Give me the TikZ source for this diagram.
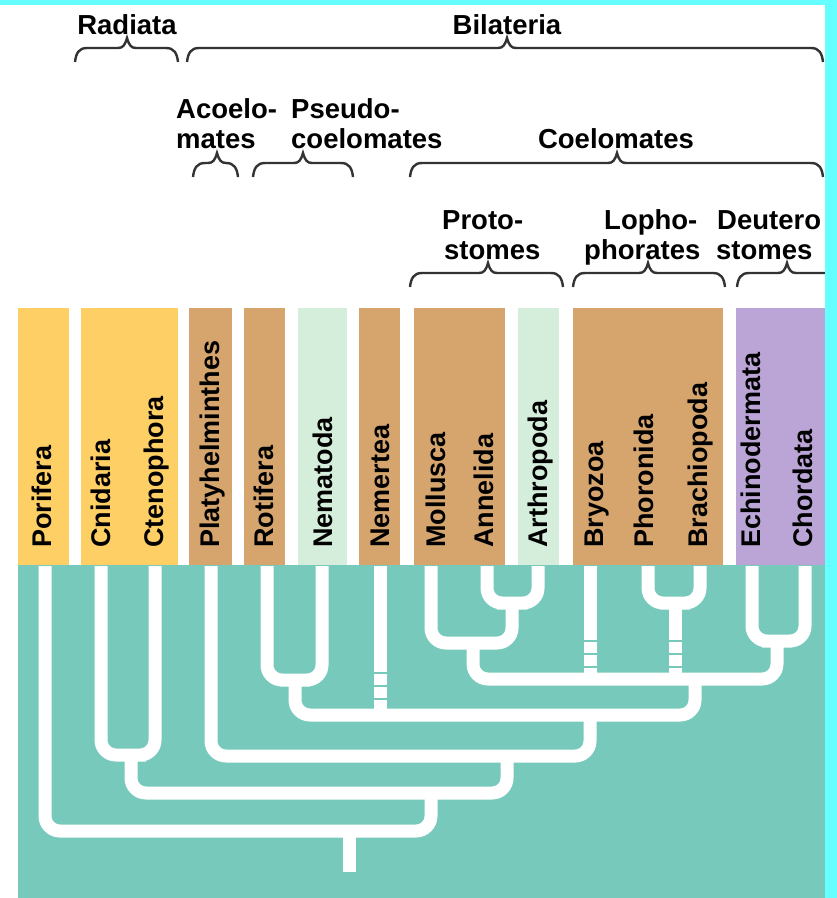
\documentclass[tikz,border=0pt]{standalone}
\usepackage{fontspec}
\setmainfont{Liberation Sans}
\definecolor{radyellow}{HTML}{FDCF64}
\definecolor{bodytan}{HTML}{D5A56D}
\definecolor{palegreen}{HTML}{D5EEDC}
\definecolor{deutpurple}{HTML}{BBA5D6}
\definecolor{treeteal}{HTML}{77C9BB}
\definecolor{framecyan}{HTML}{66FFFF}
\definecolor{braceg}{HTML}{333333}
% curly group brace: #1 left x, #2 right x, #3 tip x, #4 y of the bar
\newcommand\grpbrace[4]{%
  \draw[gbrace] (#1,#4+14) .. controls (#1+1,#4+5) and (#1+4,#4) .. (#1+12,#4)
    -- (#3-9,#4) .. controls (#3-4,#4) and (#3-2,#4-3) .. (#3,#4-10)
    .. controls (#3+2,#4-3) and (#3+4,#4) .. (#3+9,#4)
    -- (#2-12,#4) .. controls (#2-4,#4) and (#2-1,#4+5) .. (#2,#4+14);}
\begin{document}
\begin{tikzpicture}[x=1pt,y=-1pt,
  branch/.style={draw=white, line width=13pt, rounded corners=15pt},
  notch/.style={draw=treeteal, line width=2.6pt},
  taxon/.style={rotate=90, anchor=base west, inner sep=0pt,
    font=\fontsize{27}{30}\selectfont\bfseries},
  grouplab/.style={inner sep=0pt, font=\fontsize{27.5}{30}\selectfont\bfseries},
  gbrace/.style={draw=braceg, line width=2.4pt}]
\useasboundingbox (0,0) rectangle (837,898);
\fill[white] (0,0) rectangle (837,898);

% coloured phylum panels
\fill[radyellow]  (18,308)  rectangle (69,566);
\fill[radyellow]  (81,308)  rectangle (178,566);
\fill[bodytan]    (189,308) rectangle (232,566);
\fill[bodytan]    (244,308) rectangle (285,566);
\fill[palegreen]  (298,308) rectangle (347,566);
\fill[bodytan]    (359,308) rectangle (400,566);
\fill[bodytan]    (414,308) rectangle (505,566);
\fill[palegreen]  (518,308) rectangle (559,566);
\fill[bodytan]    (573,308) rectangle (723,566);
\fill[deutpurple] (736,308) rectangle (825,566);

% tree background
\fill[treeteal] (18,565) rectangle (825,898);

% phylum names
\node[taxon] (porifera)  at (52,548)  {Porifera};
\node[taxon] (cnidaria)  at (110,548) {Cnidaria};
\node[taxon] (ctenoph)   at (163,548) {Ctenophora};
\node[taxon] (platy)     at (219,548) {Platyhelminthes};
\node[taxon] (rotifera)  at (273,548) {Rotifera};
\node[taxon] (nematoda)  at (332,548) {Nematoda};
\node[taxon] (nemertea)  at (389,548) {Nemertea};
\node[taxon] (mollusca)  at (445,548) {Mollusca};
\node[taxon] (annelida)  at (493,548) {Annelida};
\node[taxon] (arthro)    at (547,548) {Arthropoda};
\node[taxon] (bryozoa)   at (603,548) {Bryozoa};
\node[taxon] (phoronida) at (653,548) {Phoronida};
\node[taxon] (brachio)   at (707,548) {Brachiopoda};
\node[taxon] (echino)    at (760,548) {Echinodermata};
\node[taxon] (chordata)  at (812,548) {Chordata};

% tips of the branches
\coordinate (Po) at (45,566);
\coordinate (Cn) at (101,566);
\coordinate (Ct) at (155,566);
\coordinate (Pl) at (211,566);
\coordinate (Ro) at (267,566);
\coordinate (Nt) at (322,566);
\coordinate (Nm) at (380,566);
\coordinate (Mo) at (431,566);
\coordinate (An) at (487,566);
\coordinate (Ar) at (538,566);
\coordinate (By) at (590,566);
\coordinate (Ph) at (648,566);
\coordinate (Br) at (700,566);
\coordinate (Ec) at (752,566);
\coordinate (Ch) at (805,566);

% branching points
\coordinate (root) at (349,872);
\coordinate (cPo)  at (431,831);
\coordinate (j1)   at (431,793);
\coordinate (uCC)  at (131,755);
\coordinate (cCC)  at (507,793);
\coordinate (j2)   at (507,756);
\coordinate (cPl)  at (590,756);
\coordinate (j3)   at (590,715);
\coordinate (uRN)  at (295,680);
\coordinate (cRN)  at (695,715);
\coordinate (j4)   at (695,679);
\coordinate (uAA)  at (512,603);
\coordinate (uPr)  at (473,643);
\coordinate (uPB)  at (675,603);
\coordinate (uDe)  at (777,641);

% branches
\draw[branch] (root) -- (root |- cPo);
\draw[branch] (Po) |- (cPo) -- (j1);
\draw[branch] (Cn) |- (uCC) -| (Ct);
\draw[branch] (uCC) |- (cCC) -- (j2);
\draw[branch] (Pl) |- (cPl) -- (j3);
\draw[branch] (Ro) |- (uRN) -| (Nt);
\draw[branch] (uRN) |- (cRN) -- (j4);
\draw[branch] (Nm) -- (Nm |- cRN);
\draw[branch] (An) |- (uAA) -| (Ar);
\draw[branch] (Mo) |- (uPr) -| (uAA);
\draw[branch] (uPr) |- (j4) -| (uDe);
\draw[branch] (Ec) |- (uDe) -| (Ch);
\draw[branch] (By) -- (By |- j4);
\draw[branch] (Ph) |- (uPB) -| (Br);
\draw[branch] (uPB) -- (uPB |- j4);

% broken (uncertain) stretches
\foreach \yy in {673,686,699}
  \draw[notch] ([xshift=-8pt]Nm |- 0,\yy) -- ([xshift=8pt]Nm |- 0,\yy);
\foreach \yy in {641,654,667} {
  \draw[notch] ([xshift=-8pt]By |- 0,\yy) -- ([xshift=8pt]By |- 0,\yy);
  \draw[notch] ([xshift=-8pt]uPB |- 0,\yy) -- ([xshift=8pt]uPB |- 0,\yy);
}

% group names
\node[grouplab, anchor=base] (radiata) at (127,34) {Radiata};
\node[grouplab, anchor=base] (bilat)   at (507,34) {Bilateria};
\node[grouplab, anchor=base west] (acoA) at (176,118) {Acoelo-};
\node[grouplab, anchor=base west] (acoB) at (176,148) {mates};
\node[grouplab, anchor=base west] (psA)  at (291,118) {Pseudo-};
\node[grouplab, anchor=base west] (psB)  at (291,148) {coelomates};
\node[grouplab, anchor=base] (coel)    at (616,148) {Coelomates};
\node[grouplab, anchor=base west] (proA) at (442,229) {Proto-};
\node[grouplab, anchor=base west] (proB) at (444,259) {stomes};
\node[grouplab, anchor=base west] (lopA) at (604,229) {Lopho-};
\node[grouplab, anchor=base west] (lopB) at (584,259) {phorates};
\node[grouplab, anchor=base west] (deuA) at (717,229) {Deutero};
\node[grouplab, anchor=base west] (deuB) at (716,259) {stomes};

% braces
\grpbrace{75}{178}{127}{48}
\grpbrace{187}{823}{507}{48}
\grpbrace{193}{238}{217}{163}
\grpbrace{253}{353}{303}{163}
\grpbrace{410}{823}{617}{163}
\grpbrace{410}{563}{488}{273}
\grpbrace{573}{725}{648}{273}
\grpbrace{737}{860}{787}{273}

% frame strips
\fill[framecyan] (0,0) rectangle (837,5);
\fill[framecyan] (825,0) rectangle (837,898);
\end{tikzpicture}
\end{document}
